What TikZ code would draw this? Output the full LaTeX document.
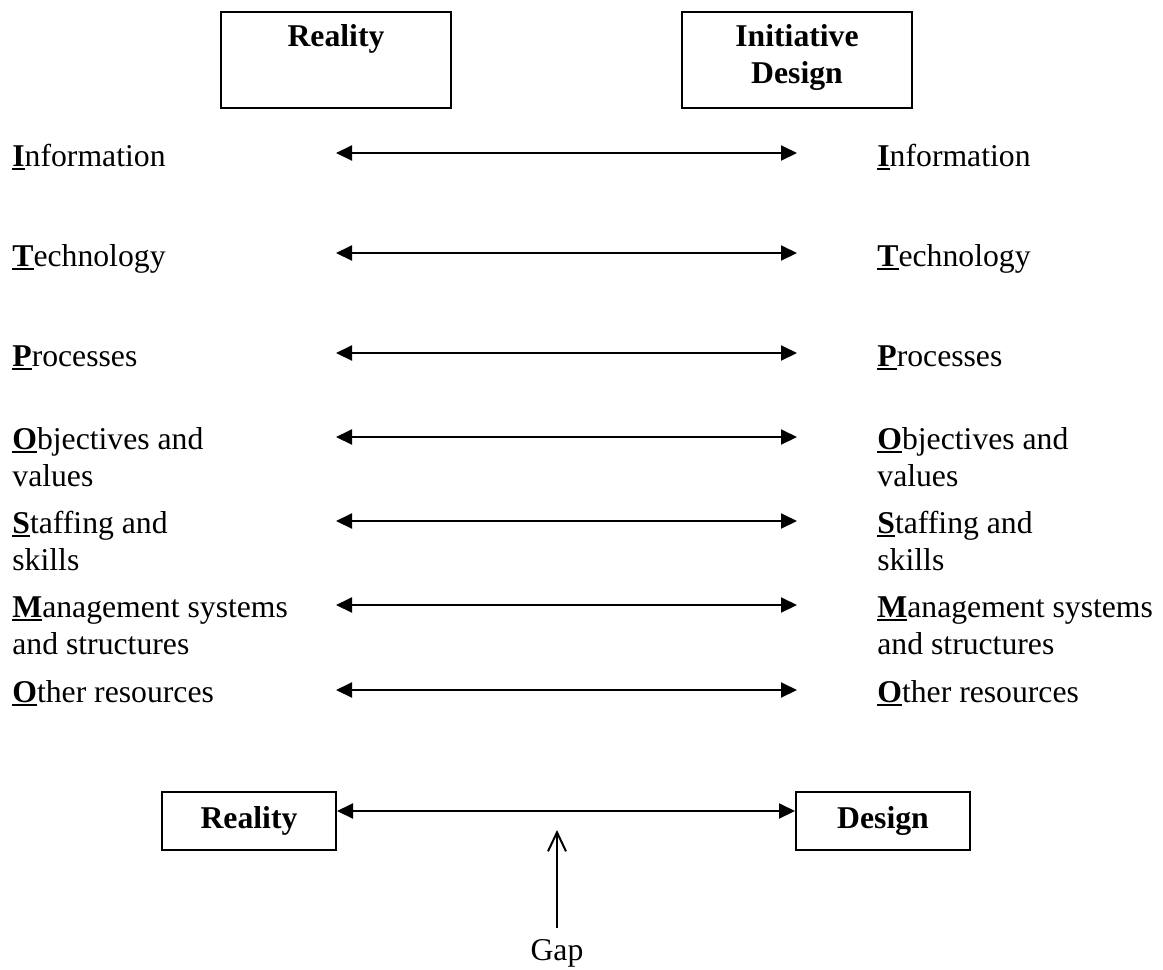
\documentclass[tikz,border=0pt]{standalone}
\usepackage{fontspec}
\setmainfont{Liberation Serif}
\usetikzlibrary{arrows.meta}

\newcommand{\rowfont}{\fontsize{15.85}{18.5}\selectfont}
\newcommand{\ul}[1]{\setbox0\hbox{\textbf{#1}}\rlap{\rule[-2pt]{\wd0}{1.2pt}}\box0}

\tikzset{
  lbl/.style={inner sep=0pt, anchor=north west, align=left, font=\rowfont},
  topbox/.style={draw, line width=1pt, minimum width=115pt, minimum height=48pt,
    align=center, font=\rowfont\bfseries},
  lowbox/.style={draw, line width=1pt, minimum width=87pt, minimum height=29pt,
    font=\rowfont\bfseries},
  link/.style={line width=1pt, {Triangle[length=8pt,width=7.5pt]}-{Triangle[length=8pt,width=7.5pt]}}
}

\begin{document}
\begin{tikzpicture}[x=0.5pt, y=-0.5pt]
  \useasboundingbox (0,0) rectangle (1163,970);

  % top boxes
  \node[topbox] (real) at (336,60) {Reality\\\strut};
  \node[topbox] (design) at (797,60) {Initiative\\Design\strut};

  % left column
  \node[lbl] (li) at (12,140) {\strut\ul{I}nformation};
  \node[lbl] (lt) at (12,240) {\strut\ul{T}echnology};
  \node[lbl] (lp) at (12,340) {\strut\ul{P}rocesses};
  \node[lbl] (lo) at (12,423) {\strut\ul{O}bjectives and\\values};
  \node[lbl] (ls) at (12,507) {\strut\ul{S}taffing and\\skills};
  \node[lbl] (lm) at (12,591) {\strut\ul{M}anagement systems\\and structures};
  \node[lbl] (lr) at (12,676) {\strut\ul{O}ther resources};

  % right column
  \node[lbl] (ri) at (877,140) {\strut\ul{I}nformation};
  \node[lbl] (rt) at (877,240) {\strut\ul{T}echnology};
  \node[lbl] (rp) at (877,340) {\strut\ul{P}rocesses};
  \node[lbl] (ro) at (877,423) {\strut\ul{O}bjectives and\\values};
  \node[lbl] (rs) at (877,507) {\strut\ul{S}taffing and\\skills};
  \node[lbl] (rm) at (877,591) {\strut\ul{M}anagement systems\\and structures};
  \node[lbl] (rr) at (877,676) {\strut\ul{O}ther resources};

  % double arrows between the columns
  \foreach \y [count=\k] in {153,253,353,437,521,605,690} {
    \coordinate (a\k) at (336,\y);
    \coordinate (b\k) at (797,\y);
    \draw[link] (a\k) -- (b\k);
  }

  % bottom part
  \node[lowbox] (rb) at (249,821) {Reality};
  \node[lowbox] (db) at (883,821) {Design};
  \draw[link] ([yshift=5pt]rb.east) -- ([yshift=5pt]db.west);

  \node[font=\rowfont, anchor=base] (gap) at (557,960) {Gap};
  \coordinate (gtip) at (557,830);
  \draw[line width=1pt, -{Straight Barb[length=9.5pt,width=9pt]}] ([yshift=2pt]gap.north) -- (gtip);
\end{tikzpicture}
\end{document}
